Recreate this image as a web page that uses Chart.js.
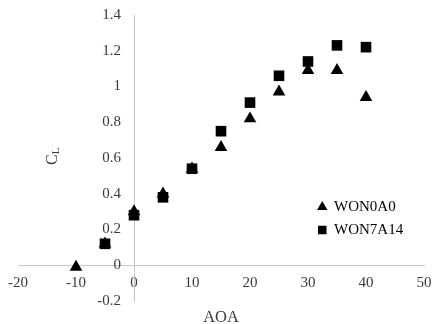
<!DOCTYPE html>
<html><head><meta charset="utf-8">
<script src="https://cdn.jsdelivr.net/npm/chart.js@4/dist/chart.umd.min.js"></script>
<style>html,body{margin:0;padding:0;background:#fff}#wrap{width:432px;height:324px}</style>
</head><body><div id="wrap"><canvas id="c" width="432" height="324"></canvas></div>
<script>
const xTickValues = [-20, -10, 0, 10, 20, 30, 40, 50];
const yTickValues = [-0.2, 0, 0.2, 0.4, 0.6, 0.8, 1, 1.2, 1.4];
const seriesNames = ['WON0A0', 'WON7A14'];
const xTitle = 'AOA';
const yTitleMain = 'C';
const yTitleSub = 'L';
const aoaA = [-10, -5, 0, 5, 10, 15, 20, 25, 30, 35, 40];
const clA  = [-0.01, 0.12, 0.30, 0.40, 0.54, 0.66, 0.82, 0.97, 1.09, 1.09, 0.94];
const aoaB = [-5, 0, 5, 10, 15, 20, 25, 30, 35, 40];
const clB  = [0.12, 0.28, 0.38, 0.54, 0.75, 0.91, 1.06, 1.14, 1.23, 1.22];

const toPoints = (xs, ys) => xs.map((x, i) => ({x: x, y: ys[i]}));
const FONT = '"Liberation Serif", "Times New Roman", serif';
const TXT = '#3a3a3a';
const AXIS = '#c8c8c8';
const Y_LABEL_AXIS_AT = -2.25;   // y tick labels sit just left of the x=0 axis line

const legendPos = {
  id: 'legendPos',
  afterLayout(chart) {
    const lg = chart.legend;
    if (!lg) return;
    lg.left = 310; lg.top = 191.5;
    lg.right = 430; lg.bottom = 260;
  }
};
const yTitlePlugin = {
  id: 'yTitle',
  afterDraw(chart) {
    const ctx = chart.ctx;
    ctx.save();
    ctx.translate(57, 165);
    ctx.rotate(-Math.PI / 2);
    ctx.fillStyle = TXT;
    ctx.textBaseline = 'alphabetic';
    ctx.textAlign = 'left';
    ctx.font = '16px ' + FONT;
    ctx.fillText(yTitleMain, 0, 0);
    const w = ctx.measureText(yTitleMain).width;
    ctx.font = '11px ' + FONT;
    ctx.fillText(yTitleSub, w, 2);
    ctx.restore();
  }
};

const yRange = { type: 'linear', min: -0.2, max: 1.4 };

new Chart(document.getElementById('c'), {
  type: 'scatter',
  data: {
    datasets: [
      { label: seriesNames[0], data: toPoints(aoaA, clA), pointStyle: 'triangle', pointRadius: 7.3,
        backgroundColor: '#000', borderColor: '#000', borderWidth: 0, order: 1, yAxisID: 'y' },
      { label: seriesNames[1], data: toPoints(aoaB, clB), pointStyle: 'rect', pointRadius: 7.5,
        backgroundColor: '#000', borderColor: '#000', borderWidth: 0, order: 0, yAxisID: 'y' }
    ]
  },
  options: {
    responsive: false,
    animation: false,
    devicePixelRatio: 1,
    layout: { padding: { left: 18, right: 8, top: 15, bottom: 23 } },
    plugins: {
      tooltip: { enabled: false },
      legend: {
        position: 'chartArea',
        align: 'start',
        labels: {
          usePointStyle: true, boxWidth: 8.5, boxHeight: 8.5, padding: 8,
          color: '#000', font: { family: FONT, size: 15 },
          sort: (a, b) => a.datasetIndex - b.datasetIndex
        }
      }
    },
    scales: {
      x: {
        type: 'linear', min: -20, max: 50, position: { y: 0 },
        afterBuildTicks: (s) => { s.ticks = xTickValues.map(v => ({value: v})); },
        grid: { display: false, drawTicks: false },
        border: { display: true, color: AXIS, width: 1 },
        ticks: { color: TXT, font: { family: FONT, size: 15, lineHeight: 2.4 }, padding: 0, maxRotation: 0 },
        title: { display: true, text: xTitle, color: TXT, font: { family: FONT, size: 16.5 }, padding: { top: 7, bottom: 0 } }
      },
      y: Object.assign({}, yRange, {
        position: { x: 0 },
        grid: { display: false, drawTicks: false },
        border: { display: true, color: AXIS, width: 1 },
        ticks: { display: false }
      }),
      yLabels: Object.assign({}, yRange, {
        position: { x: Y_LABEL_AXIS_AT },
        afterBuildTicks: (s) => { s.ticks = yTickValues.map(v => ({value: v})); },
        grid: { display: false, drawTicks: false },
        border: { display: false },
        ticks: { color: TXT, font: { family: FONT, size: 15 }, padding: 0,
          callback: (v) => String(Math.round(v * 10) / 10) }
      })
    }
  },
  plugins: [legendPos, yTitlePlugin]
});
</script></body></html>
